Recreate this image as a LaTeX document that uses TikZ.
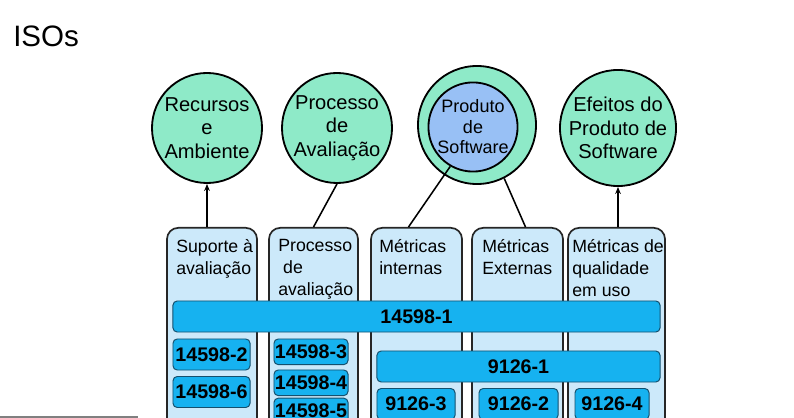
\documentclass[tikz,border=0pt]{standalone}
\usepackage{fontspec}
\setmainfont{Liberation Sans}
\usetikzlibrary{arrows.meta}

\definecolor{verdeagua}{RGB}{142,234,200}
\definecolor{azulclaro}{RGB}{204,233,250}
\definecolor{azulforte}{RGB}{22,178,240}
\definecolor{azulborda}{RGB}{20,80,110}
\definecolor{azulmedio}{RGB}{152,192,245}

\begin{document}
\begin{tikzpicture}[x=0.025cm, y=-0.025cm,
    circulo/.style={circle, draw=black, line width=1.3pt, fill=verdeagua, align=center, inner sep=0pt,
      font=\fontsize{14.3}{16.7}\selectfont},
    coluna/.style={rectangle, rounded corners=8pt, draw=black!85, line width=1.2pt, fill=azulclaro,
      minimum height=5.4cm, inner sep=0pt},
    titulo/.style={anchor=north west, align=left, inner sep=0pt, font=\fontsize{12.6}{15.6}\selectfont,
      execute at begin node={\rule{0pt}{12pt}}},
    barra/.style={rectangle, rounded corners=3pt, draw=azulborda, line width=0.7pt, fill=azulforte,
      inner sep=0pt, font=\fontsize{14}{16}\selectfont\bfseries}]

  \useasboundingbox (0,0) rectangle (794,418);
  \clip (0,0) rectangle (794,418);

  % Title
  \node[anchor=base west, inner sep=0pt, font=\fontsize{21}{24}\selectfont] (iso) at (13,47) {ISOs};

  % Circles
  \node[circulo, minimum size=2.75cm] (rec) at (207,128) {Recursos\\e\\Ambiente};
  \node[circulo, minimum size=2.75cm] (proc) at (337,128) {Processo\\de\\Avaliação};
  \node[circulo, minimum size=2.95cm] (prod) at (477,125) {};
  \node[circulo, minimum size=2.1cm, fill=azulmedio, font=\fontsize{12.8}{14.6}\selectfont] (soft) at (473,127) {Produto\\de\\Software};
  \node[circulo, minimum size=2.75cm] (efe) at (618,128) {Efeitos do\\Produto de\\Software};

  % Columns
  \node[coluna, minimum width=2.25cm, anchor=north] (c1) at (212,227) {};
  \node[coluna, minimum width=2.225cm, anchor=north] (c2) at (313.5,227) {};
  \node[coluna, minimum width=2.275cm, anchor=north] (c3) at (416.5,227) {};
  \node[coluna, minimum width=2.275cm, anchor=north] (c4) at (517.5,227) {};
  \node[coluna, minimum width=2.425cm, anchor=north] (c5) at (616.5,227) {};

  \node[titulo] (t1) at (176,239) {Suporte à\\avaliação};
  \node[titulo] (t2) at (278,239) {Processo\\~de\\avaliação};
  \node[titulo] (t3) at (379,239) {Métricas\\internas};
  \node[titulo] (t4) at (482,239) {Métricas\\Externas};
  \node[titulo] (t5) at (572,239) {Métricas de\\qualidade\\em uso};

  % Bars
  \node[barra, minimum width=12.175cm, minimum height=0.775cm] (b1) at (416.5,316.5) {14598-1};
  \node[barra, minimum width=7.075cm, minimum height=0.775cm] (b2) at (518.5,366.5) {9126-1};

  \node[barra, minimum width=1.925cm, minimum height=0.775cm] (n2) at (211.5,354.5) {14598-2};
  \node[barra, minimum width=1.925cm, minimum height=0.775cm] (n6) at (211.5,392) {14598-6};
  \node[barra, minimum width=1.85cm, minimum height=0.64cm] (n3) at (311,351.8) {14598-3};
  \node[barra, minimum width=1.85cm, minimum height=0.64cm] (n4) at (311,382.8) {14598-4};
  \node[barra, minimum width=1.85cm, minimum height=0.64cm] (n5) at (311,411) {14598-5};
  \node[barra, minimum width=1.95cm, minimum height=0.775cm] (m3) at (416,404) {9126-3};
  \node[barra, minimum width=1.975cm, minimum height=0.775cm] (m2) at (518.5,404) {9126-2};
  \node[barra, minimum width=1.85cm, minimum height=0.775cm] (m4) at (612,404) {9126-4};

  % Connectors
  \draw[line width=1.1pt, -{Stealth[length=5pt,width=4pt]}] (rec |- c1.north) -- (rec.south);
  \draw[line width=1.1pt] (c2.north) -- (proc.south);
  \draw[line width=1.1pt] ([xshift=-0.2cm]c3.north) -- (soft.240);
  \draw[line width=1.1pt] (prod.297) -- ([xshift=0.2cm]c4.north);
  \draw[line width=1.1pt, -{Stealth[length=5pt,width=4pt]}] (efe |- c5.north) -- (efe.south);

  % bottom rule
  \draw[gray, line width=1pt] (0,417) -- (138,417);
\end{tikzpicture}
\end{document}
